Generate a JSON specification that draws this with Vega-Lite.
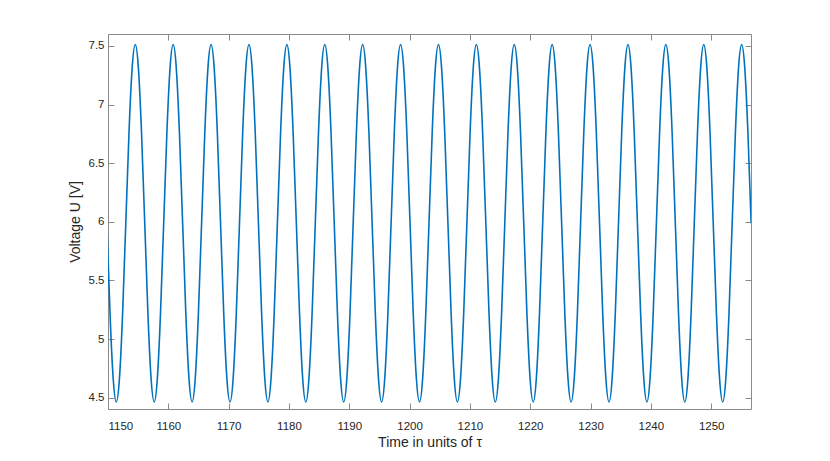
{
"$schema": "https://vega.github.io/schema/vega-lite/v6.json",
"width": 643, "height": 375,
"autosize": {"type": "none"},
"padding": {"left": 108, "top": 34, "right": 79, "bottom": 52},
"background": "white",
"config": {"view": {"stroke": null}, "font": "Liberation Sans"},
"data": {"values": [
{"t":1149.808,"u":5.987},{"t":1150.331,"u":5.225},{"t":1150.855,"u":4.667},{"t":1151.378,"u":4.463},{"t":1151.902,"u":4.667},{"t":1152.426,"u":5.225},{"t":1152.949,"u":5.987},{"t":1153.473,"u":6.749},{"t":1153.996,"u":7.307},{"t":1154.520,"u":7.511},{"t":1155.044,"u":7.307},{"t":1155.567,"u":6.749},
{"t":1156.091,"u":5.987},{"t":1156.614,"u":5.225},{"t":1157.138,"u":4.667},{"t":1157.662,"u":4.463},{"t":1158.185,"u":4.667},{"t":1158.709,"u":5.225},{"t":1159.232,"u":5.987},{"t":1159.756,"u":6.749},{"t":1160.280,"u":7.307},{"t":1160.803,"u":7.511},{"t":1161.327,"u":7.307},{"t":1161.850,"u":6.749},
{"t":1162.374,"u":5.987},{"t":1162.898,"u":5.225},{"t":1163.421,"u":4.667},{"t":1163.945,"u":4.463},{"t":1164.468,"u":4.667},{"t":1164.992,"u":5.225},{"t":1165.516,"u":5.987},{"t":1166.039,"u":6.749},{"t":1166.563,"u":7.307},{"t":1167.086,"u":7.511},{"t":1167.610,"u":7.307},{"t":1168.134,"u":6.749},
{"t":1168.657,"u":5.987},{"t":1169.181,"u":5.225},{"t":1169.704,"u":4.667},{"t":1170.228,"u":4.463},{"t":1170.752,"u":4.667},{"t":1171.275,"u":5.225},{"t":1171.799,"u":5.987},{"t":1172.322,"u":6.749},{"t":1172.846,"u":7.307},{"t":1173.370,"u":7.511},{"t":1173.893,"u":7.307},{"t":1174.417,"u":6.749},
{"t":1174.940,"u":5.987},{"t":1175.464,"u":5.225},{"t":1175.988,"u":4.667},{"t":1176.511,"u":4.463},{"t":1177.035,"u":4.667},{"t":1177.558,"u":5.225},{"t":1178.082,"u":5.987},{"t":1178.606,"u":6.749},{"t":1179.129,"u":7.307},{"t":1179.653,"u":7.511},{"t":1180.176,"u":7.307},{"t":1180.700,"u":6.749},
{"t":1181.224,"u":5.987},{"t":1181.747,"u":5.225},{"t":1182.271,"u":4.667},{"t":1182.794,"u":4.463},{"t":1183.318,"u":4.667},{"t":1183.842,"u":5.225},{"t":1184.365,"u":5.987},{"t":1184.889,"u":6.749},{"t":1185.412,"u":7.307},{"t":1185.936,"u":7.511},{"t":1186.460,"u":7.307},{"t":1186.983,"u":6.749},
{"t":1187.507,"u":5.987},{"t":1188.030,"u":5.225},{"t":1188.554,"u":4.667},{"t":1189.078,"u":4.463},{"t":1189.601,"u":4.667},{"t":1190.125,"u":5.225},{"t":1190.648,"u":5.987},{"t":1191.172,"u":6.749},{"t":1191.696,"u":7.307},{"t":1192.219,"u":7.511},{"t":1192.743,"u":7.307},{"t":1193.266,"u":6.749},
{"t":1193.790,"u":5.987},{"t":1194.314,"u":5.225},{"t":1194.837,"u":4.667},{"t":1195.361,"u":4.463},{"t":1195.884,"u":4.667},{"t":1196.408,"u":5.225},{"t":1196.932,"u":5.987},{"t":1197.455,"u":6.749},{"t":1197.979,"u":7.307},{"t":1198.502,"u":7.511},{"t":1199.026,"u":7.307},{"t":1199.550,"u":6.749},
{"t":1200.073,"u":5.987},{"t":1200.597,"u":5.225},{"t":1201.120,"u":4.667},{"t":1201.644,"u":4.463},{"t":1202.168,"u":4.667},{"t":1202.691,"u":5.225},{"t":1203.215,"u":5.987},{"t":1203.738,"u":6.749},{"t":1204.262,"u":7.307},{"t":1204.786,"u":7.511},{"t":1205.309,"u":7.307},{"t":1205.833,"u":6.749},
{"t":1206.356,"u":5.987},{"t":1206.880,"u":5.225},{"t":1207.403,"u":4.667},{"t":1207.927,"u":4.463},{"t":1208.451,"u":4.667},{"t":1208.974,"u":5.225},{"t":1209.498,"u":5.987},{"t":1210.022,"u":6.749},{"t":1210.545,"u":7.307},{"t":1211.069,"u":7.511},{"t":1211.592,"u":7.307},{"t":1212.116,"u":6.749},
{"t":1212.640,"u":5.987},{"t":1213.163,"u":5.225},{"t":1213.687,"u":4.667},{"t":1214.210,"u":4.463},{"t":1214.734,"u":4.667},{"t":1215.258,"u":5.225},{"t":1215.781,"u":5.987},{"t":1216.305,"u":6.749},{"t":1216.828,"u":7.307},{"t":1217.352,"u":7.511},{"t":1217.876,"u":7.307},{"t":1218.399,"u":6.749},
{"t":1218.923,"u":5.987},{"t":1219.446,"u":5.225},{"t":1219.970,"u":4.667},{"t":1220.493,"u":4.463},{"t":1221.017,"u":4.667},{"t":1221.541,"u":5.225},{"t":1222.064,"u":5.987},{"t":1222.588,"u":6.749},{"t":1223.111,"u":7.307},{"t":1223.635,"u":7.511},{"t":1224.159,"u":7.307},{"t":1224.682,"u":6.749},
{"t":1225.206,"u":5.987},{"t":1225.729,"u":5.225},{"t":1226.253,"u":4.667},{"t":1226.777,"u":4.463},{"t":1227.300,"u":4.667},{"t":1227.824,"u":5.225},{"t":1228.347,"u":5.987},{"t":1228.871,"u":6.749},{"t":1229.395,"u":7.307},{"t":1229.918,"u":7.511},{"t":1230.442,"u":7.307},{"t":1230.965,"u":6.749},
{"t":1231.489,"u":5.987},{"t":1232.013,"u":5.225},{"t":1232.536,"u":4.667},{"t":1233.060,"u":4.463},{"t":1233.583,"u":4.667},{"t":1234.107,"u":5.225},{"t":1234.631,"u":5.987},{"t":1235.154,"u":6.749},{"t":1235.678,"u":7.307},{"t":1236.201,"u":7.511},{"t":1236.725,"u":7.307},{"t":1237.249,"u":6.749},
{"t":1237.772,"u":5.987},{"t":1238.296,"u":5.225},{"t":1238.819,"u":4.667},{"t":1239.343,"u":4.463},{"t":1239.867,"u":4.667},{"t":1240.390,"u":5.225},{"t":1240.914,"u":5.987},{"t":1241.437,"u":6.749},{"t":1241.961,"u":7.307},{"t":1242.485,"u":7.511},{"t":1243.008,"u":7.307},{"t":1243.532,"u":6.749},
{"t":1244.055,"u":5.987},{"t":1244.579,"u":5.225},{"t":1245.103,"u":4.667},{"t":1245.626,"u":4.463},{"t":1246.150,"u":4.667},{"t":1246.673,"u":5.225},{"t":1247.197,"u":5.987},{"t":1247.721,"u":6.749},{"t":1248.244,"u":7.307},{"t":1248.768,"u":7.511},{"t":1249.291,"u":7.307},{"t":1249.815,"u":6.749},
{"t":1250.339,"u":5.987},{"t":1250.862,"u":5.225},{"t":1251.386,"u":4.667},{"t":1251.909,"u":4.463},{"t":1252.433,"u":4.667},{"t":1252.957,"u":5.225},{"t":1253.480,"u":5.987},{"t":1254.004,"u":6.749},{"t":1254.527,"u":7.307},{"t":1255.051,"u":7.511},{"t":1255.575,"u":7.307},{"t":1256.098,"u":6.749},
{"t":1256.622,"u":5.987}
]},
"layer": [
{"mark": {"type": "line", "color": "#0072BD", "strokeWidth": 1.6, "interpolate": "natural", "clip": true},
 "encoding": {
  "x": {"field": "t", "type": "quantitative", "scale": {"domain": [1150, 1256.6], "nice": false, "zero": false},
   "axis": {"orient": "bottom", "values": [1150,1160,1170,1180,1190,1200,1210,1220,1230,1240,1250], "format": "d", "grid": false,
    "tickSize": -6, "tickColor": "#8a8a8a", "domainColor": "#8a8a8a", "labelColor": "#262626", "labelFontSize": 11.5, "labelPadding": 17,
    "title": "Time in units of τ", "titleFontSize": 14, "titleFontWeight": "normal", "titleColor": "#262626", "titlePadding": 4}},
  "y": {"field": "u", "type": "quantitative", "scale": {"domain": [4.403, 7.602], "nice": false, "zero": false},
   "axis": {"orient": "left", "values": [4.5,5,5.5,6,6.5,7,7.5], "format": "~g", "grid": false,
    "tickSize": -6, "tickColor": "#8a8a8a", "domainColor": "#8a8a8a", "labelColor": "#262626", "labelFontSize": 11.5, "labelPadding": 10,
    "title": "Voltage U [V]", "titleFontSize": 14, "titleFontWeight": "normal", "titleColor": "#262626", "titlePadding": 6}}
 }},
{"mark": {"type": "line", "opacity": 0},
 "encoding": {
  "x": {"field": "t", "type": "quantitative", "scale": {"domain": [1150, 1256.6], "nice": false, "zero": false},
   "axis": {"orient": "top", "values": [1150,1160,1170,1180,1190,1200,1210,1220,1230,1240,1250], "labels": false, "grid": false, "title": null,
    "tickSize": -6, "tickColor": "#8a8a8a", "domainColor": "#8a8a8a"}},
  "y": {"field": "u", "type": "quantitative", "scale": {"domain": [4.403, 7.602], "nice": false, "zero": false},
   "axis": {"orient": "right", "values": [4.5,5,5.5,6,6.5,7,7.5], "labels": false, "grid": false, "title": null,
    "tickSize": -6, "tickColor": "#8a8a8a", "domainColor": "#8a8a8a"}}
 }}
],
"resolve": {"axis": {"x": "independent", "y": "independent"}}
}
